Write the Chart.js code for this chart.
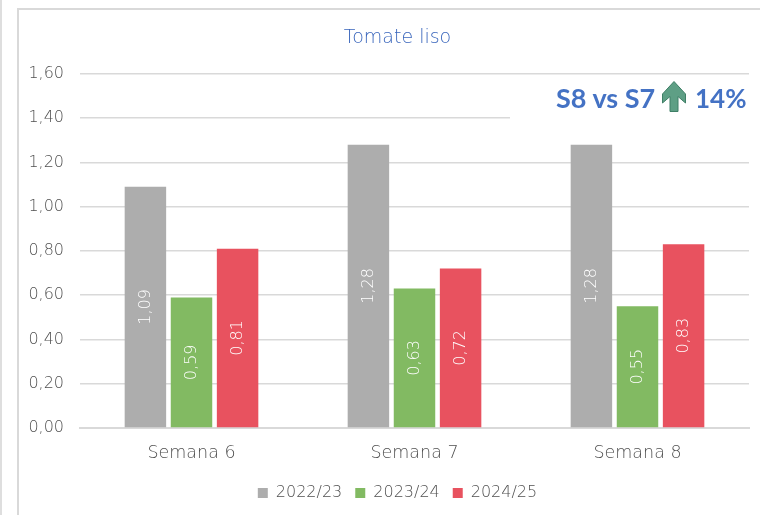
<!DOCTYPE html>
<html>
<head>
<meta charset="utf-8">
<script src="https://cdn.jsdelivr.net/npm/chart.js@4"></script>
<style>
html,body{margin:0;padding:0;background:#fff;width:760px;height:515px;overflow:hidden;position:relative}
#outer{position:absolute;left:0;top:0;width:2px;height:515px;background:#dedede}
#frame{position:absolute;left:17px;top:8px;right:0;bottom:0;border-left:2px solid #d9d9d9;border-top:2px solid #d9d9d9}
canvas{position:absolute;left:0;top:0}
#strip{position:absolute;left:510px;top:115px;width:240px;height:4px;background:#fff}
#note{position:absolute;left:556px;top:81px;height:34px;white-space:nowrap;color:#4472C4;font:bold 27px/34px Lato,sans-serif}
#note span{position:absolute;top:0}
#arrow{position:absolute;left:662px;top:81px}
</style>
</head>
<body>
<div id="outer"></div>
<div id="frame"></div>
<canvas id="c" width="760" height="515"></canvas>
<div id="strip"></div>
<div id="note"><span style="left:0">S8&nbsp;vs&nbsp;S7</span><span style="left:139px;font-size:26px">14%</span></div>
<svg id="arrow" width="24" height="31" viewBox="0 0 24 31"><path d="M12 .5 L23.5 13 V22 L16 15.5 V30.5 H8 V15.5 L.5 22 V13 Z" fill="#5E9F85" stroke="#3F7F66" stroke-width="1"/></svg>
<script>
const titleText = 'Tomate liso';
const categories = ['Semana 6', 'Semana 7', 'Semana 8'];
const seriesNames = ['2022/23', '2023/24', '2024/25'];
const values2022 = [1.09, 1.28, 1.28];
const values2023 = [0.59, 0.63, 0.55];
const values2024 = [0.81, 0.72, 0.83];
const colors = ['#ADADAD', '#82BA62', '#E8525F'];
const textGray = '#505050';
const fontFamily = '"DejaVu Sans", sans-serif';
const lightWeight = 200;

const comma = (v) => v.toFixed(2).replace('.', ',');

const barLabels = {
  id: 'barLabels',
  afterDatasetsDraw(chart) {
    const ctx = chart.ctx;
    chart.data.datasets.forEach((ds, i) => {
      chart.getDatasetMeta(i).data.forEach((bar, j) => {
        const p = bar.getProps(['x', 'y', 'base'], true);
        ctx.save();
        ctx.translate(p.x, (p.y + p.base) / 2);
        ctx.rotate(-Math.PI / 2);
        ctx.fillStyle = '#fff';
        ctx.font = lightWeight + ' 16px ' + fontFamily;
        ctx.textAlign = 'center';
        ctx.textBaseline = 'middle';
        ctx.fillText(comma(ds.data[j]), 0, 0);
        ctx.restore();
      });
    });
  }
};

const shiftBlocks = {
  id: 'shiftBlocks',
  afterLayout(chart) {
    const l = chart.legend, t = chart.titleBlock;
    l.left += 23; l.right += 23;
    t.left += 23; t.right += 23;
  }
};

new Chart(document.getElementById('c'), {
  type: 'bar',
  data: {
    labels: categories,
    datasets: [
      { label: seriesNames[0], data: values2022, backgroundColor: colors[0] },
      { label: seriesNames[1], data: values2023, backgroundColor: colors[1] },
      { label: seriesNames[2], data: values2024, backgroundColor: colors[2] }
    ]
  },
  plugins: [barLabels, shiftBlocks],
  options: {
    responsive: false,
    animation: false,
    layout: { padding: { top: 0, right: 11, bottom: 4, left: 0 } },
    datasets: { bar: { categoryPercentage: 0.62, barPercentage: 0.9 } },
    scales: {
      x: {
        grid: { display: false },
        border: { color: '#d9d9d9', width: 2 },
        ticks: { color: textGray, font: { family: fontFamily, size: 17.5, weight: lightWeight }, padding: 7, maxRotation: 0 },
        afterFit(s) { s.height = 44; }
      },
      y: {
        min: 0, max: 1.6,
        grid: { color: '#d9d9d9', lineWidth: 1.5, drawTicks: false },
        border: { display: false },
        ticks: { stepSize: 0.2, color: textGray, font: { family: fontFamily, size: 16, weight: lightWeight }, padding: 16,
          callback: (v) => comma(v) },
        afterFit(s) { s.width = 80; }
      }
    },
    plugins: {
      tooltip: { enabled: false },
      title: { display: true, text: titleText, color: '#3A66BC',
        font: { family: fontFamily, size: 19, weight: lightWeight }, padding: { top: 27, bottom: 24 } },
      legend: { position: 'bottom',
        labels: { color: textGray, font: { family: fontFamily, size: 16, weight: lightWeight }, boxWidth: 10, boxHeight: 10, padding: 13 } }
    }
  }
});
</script>
</body>
</html>
